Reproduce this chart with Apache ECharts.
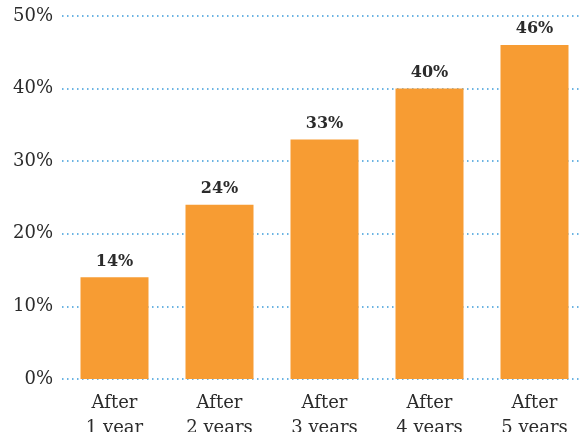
<!DOCTYPE html>
<html>
<head>
<meta charset="utf-8">
<script src="https://cdn.jsdelivr.net/npm/echarts@6/dist/echarts.min.js"></script>
<style>
  html, body { margin: 0; padding: 0; background: #fff; }
  #chart { width: 581px; height: 432px; }
</style>
</head>
<body>
<div id="chart"></div>
<script>
const categories = ['After\n1 year', 'After\n2 years', 'After\n3 years', 'After\n4 years', 'After\n5 years'];
const values = [14, 24, 33, 40, 46];
const yTicks = [0, 10, 20, 30, 40, 50];

const chart = echarts.init(document.getElementById('chart'));
const font = '"DejaVu Serif", "Liberation Serif", serif';

chart.setOption({
    animation: false,
    grid: {
        left: 62, top: 16, width: 525, bottom: 53,
        containLabel: false,
        outerBoundsMode: 'none'
    },
    xAxis: {
        type: 'category',
        data: categories,
        axisLine: { show: false },
        axisTick: { show: false },
        axisLabel: {
            color: '#2b2b2b',
            fontFamily: font,
            fontSize: 18,
            lineHeight: 25,
            margin: 12
        }
    },
    yAxis: {
        type: 'value',
        min: yTicks[0],
        max: yTicks[yTicks.length - 1],
        interval: 10,
        axisLine: { show: false },
        axisTick: { show: false },
        axisLabel: {
            color: '#2b2b2b',
            fontFamily: font,
            fontSize: 18,
            margin: 9,
            formatter: '{value}%'
        },
        splitLine: {
            show: true,
            lineStyle: { color: '#3a9bd9', type: [1.5, 3.5], width: 1.5 }
        }
    },
    series: [{
        type: 'bar',
        data: values,
        barWidth: 68,
        itemStyle: { color: '#f79c33' },
        label: {
            show: true,
            position: 'top',
            distance: 8,
            formatter: '{c}%',
            color: '#2b2b2b',
            fontFamily: font,
            fontWeight: 'bold',
            fontSize: 16
        }
    }]
});
</script>
</body>
</html>
